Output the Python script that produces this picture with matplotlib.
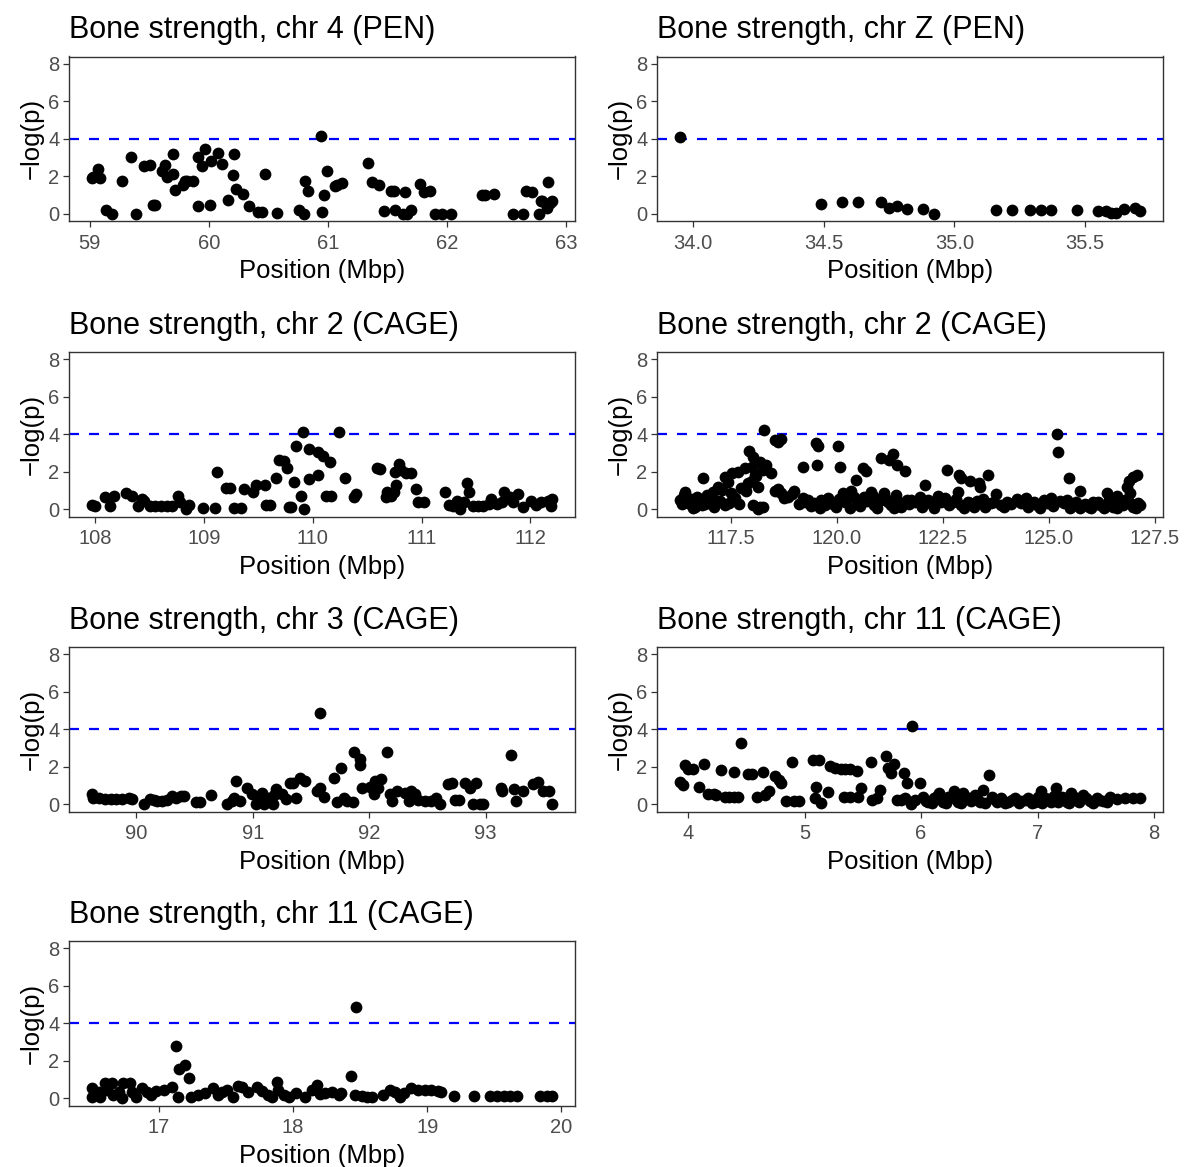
import matplotlib
matplotlib.use("Agg")
import matplotlib.pyplot as plt
from matplotlib.ticker import FormatStrFormatter

###########################
# Data (position in Mbp, -log(p))
###########################

titles = ["Bone strength, chr 4 (PEN)", "Bone strength, chr Z (PEN)",
          "Bone strength, chr 2 (CAGE)", "Bone strength, chr 2 (CAGE)",
          "Bone strength, chr 3 (CAGE)", "Bone strength, chr 11 (CAGE)",
          "Bone strength, chr 11 (CAGE)"]

chr4_pen = [
    (59.02, 1.89), (59.03, 1.94), (59.07, 2.39), (59.09, 1.89), (59.14, 0.18),
    (59.19, 0.0), (59.27, 1.76), (59.35, 3.02), (59.39, 0.0), (59.46, 2.52),
    (59.51, 2.57), (59.53, 0.45), (59.55, 0.45), (59.63, 2.57), (59.61, 2.25),
    (59.65, 1.98), (59.70, 3.18), (59.70, 2.12), (59.72, 1.28), (59.78, 1.53),
    (59.80, 1.76), (59.82, 1.76), (59.87, 1.76), (59.91, 3.02), (59.91, 0.41),
    (59.94, 2.52), (59.97, 3.47), (60.01, 0.45), (60.02, 2.79), (60.08, 3.24),
    (60.11, 2.63), (60.16, 0.74), (60.21, 3.18), (60.20, 2.07), (60.23, 1.31),
    (60.29, 1.04), (60.34, 0.41), (60.41, 0.09), (60.45, 0.09), (60.47, 2.10),
    (60.57, 0.05), (60.76, 0.18), (60.80, 0.0), (60.81, 1.76), (60.83, 1.22),
    (60.94, 4.14), (60.95, 0.09), (60.97, 1.01), (60.99, 2.25), (61.06, 1.49),
    (61.08, 1.55), (61.12, 1.62), (61.34, 2.72), (61.37, 1.67), (61.43, 1.53),
    (61.47, 0.14), (61.53, 1.21), (61.55, 1.21), (61.56, 0.18), (61.63, 0.0),
    (61.65, 1.13), (61.66, 0.0), (61.70, 0.18), (61.77, 1.58), (61.81, 1.13),
    (61.86, 1.22), (61.90, 0.0), (61.96, 0.0), (62.03, 0.0), (62.29, 1.01),
    (62.32, 1.01), (62.39, 1.04), (62.55, 0.0), (62.64, 0.0), (62.66, 1.22),
    (62.71, 1.17), (62.77, 0.0), (62.79, 0.68), (62.80, 0.68), (62.84, 0.27),
    (62.85, 1.67), (62.86, 0.56), (62.88, 0.68),
]

chrZ_pen = [
    (33.95, 4.10), (34.49, 0.50), (34.57, 0.59), (34.63, 0.63), (34.72, 0.59),
    (34.75, 0.32), (34.78, 0.38), (34.82, 0.23), (34.88, 0.23), (34.92, 0.0),
    (35.16, 0.18), (35.22, 0.18), (35.29, 0.18), (35.33, 0.18), (35.37, 0.18),
    (35.47, 0.18), (35.55, 0.11), (35.58, 0.11), (35.60, 0.05), (35.62, 0.05),
    (35.65, 0.23), (35.69, 0.29), (35.71, 0.14),
]

chr2_cage_a = [
    (107.97, 0.22), (108.0, 0.18), (108.09, 0.63), (108.14, 0.18), (108.17, 0.72),
    (108.28, 0.87), (108.34, 0.72), (108.39, 0.18), (108.43, 0.54), (108.45, 0.45),
    (108.50, 0.18), (108.55, 0.18), (108.60, 0.18), (108.66, 0.18), (108.71, 0.18),
    (108.76, 0.72), (108.78, 0.36), (108.83, 0.0), (108.86, 0.22), (108.99, 0.05),
    (109.10, 0.04), (109.12, 1.99), (109.20, 1.12), (109.24, 1.12), (109.28, 0.04),
    (109.34, 0.04), (109.37, 1.09), (109.45, 0.90), (109.48, 1.27), (109.56, 1.30),
    (109.57, 0.22), (109.61, 0.22), (109.66, 1.67), (109.69, 2.62), (109.74, 2.57),
    (109.76, 2.21), (109.78, 0.09), (109.80, 0.09), (109.83, 1.45), (109.85, 3.35),
    (109.89, 0.72), (109.91, 4.11), (109.92, 0.0), (109.97, 3.22), (109.97, 1.59),
    (110.05, 1.81), (110.05, 3.04), (110.09, 2.81), (110.12, 0.72), (110.16, 2.50),
    (110.17, 0.72), (110.24, 4.11), (110.30, 1.67), (110.38, 0.63), (110.40, 0.81),
    (110.59, 2.17), (110.62, 2.12), (110.67, 0.63), (110.68, 0.90), (110.72, 0.72),
    (110.75, 0.90), (110.76, 1.99), (110.77, 1.27), (110.79, 2.39), (110.81, 2.08),
    (110.86, 1.94), (110.90, 1.94), (110.95, 1.05), (110.97, 0.36), (111.02, 0.36),
    (111.22, 0.90), (111.25, 0.22), (111.29, 0.18), (111.33, 0.45), (111.35, 0.0),
    (111.39, 0.36), (111.42, 1.41), (111.44, 0.90), (111.47, 0.18), (111.52, 0.18),
    (111.57, 0.18), (111.62, 0.27), (111.64, 0.54), (111.69, 0.27), (111.74, 0.36),
    (111.76, 0.90), (111.81, 0.63), (111.84, 0.36), (111.89, 0.81), (111.93, 0.09),
    (112.01, 0.45), (112.05, 0.22), (112.10, 0.36), (112.16, 0.45), (112.19, 0.18),
    (112.20, 0.54),
]

chr2_cage_b = [
    (118.28, 4.23), (118.53, 3.70), (118.69, 3.73), (118.61, 3.60), (119.50, 3.52),
    (119.55, 3.38), (120.02, 3.38), (117.93, 3.13), (118.02, 2.80), (118.18, 2.54),
    (118.34, 2.36), (118.45, 1.91), (119.21, 2.23), (119.53, 2.36), (120.07, 2.23),
    (121.05, 2.75), (121.23, 2.63), (121.33, 2.93), (121.41, 2.36), (121.60, 2.05),
    (120.61, 2.18), (120.69, 2.04), (120.45, 1.55), (116.85, 1.64), (117.36, 1.73),
    (117.52, 1.91), (117.67, 2.00), (117.83, 2.18), (117.99, 2.27), (118.06, 1.82),
    (117.44, 1.46), (117.20, 1.20), (117.91, 1.38), (118.14, 1.16), (116.42, 0.93),
    (116.69, 0.66), (116.93, 0.75), (117.09, 0.93), (117.28, 1.02), (117.59, 0.57),
    (116.30, 0.48), (116.50, 0.30), (116.65, 0.13), (116.81, 0.21), (117.01, 0.39),
    (117.16, 0.30), (117.36, 0.21), (118.02, 0.21), (118.18, 0.09), (118.26, 0.13),
    (118.61, 1.05), (118.69, 0.88), (118.85, 0.66), (119.00, 0.96), (119.20, 0.57),
    (119.32, 0.48), (119.47, 0.30), (119.63, 0.48), (119.71, 0.21), (119.86, 0.39),
    (119.98, 0.13), (120.14, 0.88), (120.25, 0.57), (120.33, 0.96), (120.49, 0.30),
    (120.64, 0.66), (120.80, 0.93), (120.88, 0.21), (121.04, 0.48), (121.11, 0.84),
    (121.27, 0.21), (121.39, 0.75), (121.51, 0.13), (121.66, 0.48),
    (122.09, 1.29), (122.59, 2.09), (122.88, 1.82), (122.93, 1.64), (123.15, 1.52),
    (123.36, 1.38), (123.38, 1.16), (123.57, 1.82), (122.85, 0.93), (123.75, 0.80),
    (125.48, 1.64), (125.74, 0.96), (126.37, 0.88), (126.60, 0.70), (126.90, 1.52),
    (126.99, 1.73), (127.07, 1.82), (126.84, 1.20), (126.92, 0.84), (125.20, 4.00),
    (125.21, 3.04),
    (121.76, 0.48), (121.95, 0.63), (122.15, 0.48), (122.38, 0.70), (122.54, 0.57),
    (122.73, 0.39), (122.93, 0.21), (123.09, 0.39), (123.24, 0.13), (123.44, 0.52),
    (123.63, 0.30), (123.87, 0.21), (124.02, 0.39), (124.26, 0.52), (124.45, 0.57),
    (124.57, 0.30), (124.73, 0.21), (124.88, 0.48), (125.04, 0.57), (125.27, 0.45),
    (125.43, 0.48), (125.59, 0.21), (125.74, 0.04), (125.94, 0.13), (126.05, 0.39),
    (126.21, 0.21), (126.41, 0.48), (126.52, 0.13), (126.68, 0.30), (126.80, 0.48),
    (126.99, 0.13), (127.15, 0.21),
    (116.35, 0.25), (116.40, 0.75), (116.55, 0.55), (116.60, 0.05), (116.75, 0.45),
    (116.90, 0.25), (117.05, 0.70), (117.10, 0.10), (117.25, 0.45), (117.45, 0.30),
    (117.50, 0.85), (117.70, 0.25), (117.75, 1.15), (117.85, 0.95), (118.00, 1.50),
    (118.10, 1.75), (118.15, 0.00), (118.25, 2.10), (118.55, 0.95), (118.75, 0.60),
    (118.95, 0.80), (119.10, 0.25), (119.25, 0.40), (119.40, 0.15), (119.60, 0.05),
    (119.80, 0.60), (119.90, 0.25), (120.05, 0.55), (120.20, 0.35), (120.30, 0.05),
    (120.40, 0.65), (120.55, 0.15), (120.70, 0.45), (120.85, 0.70), (120.95, 0.05),
    (121.15, 0.55), (121.20, 0.35), (121.35, 0.05), (121.45, 0.40), (121.55, 0.30),
    (121.70, 0.25), (121.85, 0.40), (122.00, 0.10), (122.20, 0.30), (122.30, 0.05),
    (122.45, 0.35), (122.65, 0.20), (122.80, 0.55), (123.00, 0.05), (123.15, 0.30),
    (123.30, 0.45), (123.50, 0.10), (123.70, 0.40), (123.95, 0.10), (124.10, 0.25),
    (124.35, 0.30), (124.50, 0.10), (124.65, 0.40), (124.80, 0.05), (124.95, 0.30),
    (125.10, 0.15), (125.35, 0.30), (125.50, 0.05), (125.65, 0.35), (125.85, 0.25),
    (126.00, 0.05), (126.15, 0.35), (126.30, 0.05), (126.45, 0.30), (126.60, 0.05),
    (126.75, 0.20), (126.90, 0.35), (127.05, 0.05), (127.10, 0.30),
]

chr3_cage = [
    (89.62, 0.51), (89.63, 0.32), (89.68, 0.32), (89.73, 0.27), (89.78, 0.27),
    (89.83, 0.27), (89.88, 0.27), (89.94, 0.32), (89.96, 0.29), (90.07, 0.0),
    (90.12, 0.29), (90.15, 0.23), (90.18, 0.18), (90.22, 0.18), (90.26, 0.23),
    (90.31, 0.42), (90.34, 0.32), (90.38, 0.42), (90.41, 0.42), (90.51, 0.09),
    (90.55, 0.09), (90.64, 0.47), (90.78, 0.0), (90.82, 0.18), (90.84, 0.32),
    (90.86, 1.23), (90.89, 0.14), (90.95, 0.87), (90.99, 0.51), (91.03, 0.0),
    (91.05, 0.32), (91.08, 0.60), (91.10, 0.0), (91.13, 0.32), (91.17, 0.0),
    (91.18, 0.47), (91.20, 0.78), (91.25, 0.51), (91.29, 0.29), (91.32, 1.14),
    (91.35, 1.14), (91.37, 0.32), (91.41, 1.41), (91.45, 1.23), (91.55, 0.69),
    (91.58, 0.87), (91.58, 4.87), (91.61, 0.36), (91.70, 1.41), (91.72, 0.09),
    (91.76, 1.91), (91.78, 0.32), (91.81, 0.18), (91.86, 0.09), (91.87, 2.76),
    (91.92, 2.40), (91.92, 2.09), (91.94, 0.87), (92.01, 0.92), (92.04, 0.51),
    (92.05, 1.23), (92.10, 1.32), (92.08, 0.87), (92.15, 2.80), (92.18, 0.51),
    (92.20, 0.18), (92.24, 0.69), (92.31, 0.60), (92.34, 0.18), (92.36, 0.69),
    (92.39, 0.51), (92.42, 0.23), (92.48, 0.14), (92.53, 0.14), (92.57, 0.32),
    (92.61, 0.0), (92.68, 1.05), (92.71, 1.14), (92.74, 0.23), (92.77, 0.23),
    (92.82, 1.14), (92.87, 0.87), (92.89, 0.0), (92.92, 1.14), (92.95, 0.0),
    (92.98, 0.0), (93.13, 0.87), (93.14, 0.69), (93.22, 2.64), (93.24, 0.78),
    (93.26, 0.14), (93.32, 0.72), (93.41, 1.05), (93.45, 1.19), (93.49, 0.69),
    (93.54, 0.69), (93.57, 0.0),
]

chr11_cage_a = [
    (3.93, 1.16), (3.96, 1.04), (3.97, 2.07), (4.00, 1.85), (4.04, 1.85),
    (4.09, 0.89), (4.14, 2.13), (4.17, 0.53), (4.22, 0.53), (4.24, 0.49),
    (4.28, 1.82), (4.32, 0.40), (4.35, 0.35), (4.39, 1.71), (4.39, 0.40),
    (4.43, 0.40), (4.45, 3.27), (4.51, 1.62), (4.55, 1.62), (4.59, 0.40),
    (4.64, 1.71), (4.66, 0.49), (4.69, 0.71), (4.75, 1.49), (4.78, 1.31),
    (4.80, 1.13), (4.84, 0.16), (4.89, 2.27), (4.91, 0.16), (4.95, 0.16),
    (5.07, 2.35), (5.12, 2.35), (5.10, 0.89), (5.09, 0.31), (5.14, 0.07),
    (5.20, 0.62), (5.22, 2.04), (5.26, 1.95), (5.31, 1.85), (5.35, 1.85),
    (5.39, 1.85), (5.45, 1.76), (5.34, 0.35), (5.39, 0.35), (5.48, 0.85),
    (5.46, 0.35), (5.57, 2.25), (5.58, 0.22), (5.62, 0.31), (5.65, 0.76),
    (5.70, 2.58), (5.72, 1.95), (5.74, 1.67), (5.77, 2.13), (5.79, 0.22),
    (5.83, 0.22), (5.85, 1.67), (5.88, 1.13), (5.91, 0.0), (5.92, 4.16),
    (5.99, 1.13), (5.86, 0.31), (6.58, 1.55),
    (5.95, 0.22), (6.02, 0.40), (6.06, 0.13), (6.11, 0.31), (6.15, 0.58),
    (6.19, 0.13), (6.23, 0.40), (6.28, 0.67), (6.32, 0.13), (6.36, 0.58),
    (6.41, 0.31), (6.46, 0.49), (6.51, 0.13), (6.53, 0.76), (6.61, 0.40),
    (6.65, 0.13), (6.69, 0.31), (6.75, 0.13), (6.81, 0.31), (6.86, 0.16),
    (6.92, 0.31), (6.98, 0.13), (7.03, 0.67), (7.06, 0.31), (7.12, 0.13),
    (7.16, 0.85), (7.21, 0.40), (7.25, 0.13), (7.29, 0.58), (7.33, 0.22),
    (7.39, 0.49), (7.45, 0.16), (7.51, 0.31), (7.56, 0.16), (7.62, 0.35),
    (7.68, 0.27), (7.75, 0.31), (7.82, 0.31), (7.88, 0.31),
    (6.04, 0.15), (6.09, 0.05), (6.13, 0.35), (6.17, 0.25), (6.21, 0.05),
    (6.25, 0.30), (6.30, 0.45), (6.34, 0.05), (6.38, 0.35), (6.43, 0.15),
    (6.48, 0.30), (6.55, 0.05), (6.63, 0.25), (6.72, 0.05), (6.78, 0.20),
    (6.84, 0.05), (6.90, 0.20), (6.95, 0.05), (7.00, 0.35), (7.04, 0.05),
    (7.09, 0.25), (7.14, 0.45), (7.18, 0.10), (7.23, 0.30), (7.27, 0.05),
    (7.31, 0.40), (7.36, 0.10), (7.42, 0.30), (7.48, 0.05), (7.53, 0.20),
    (7.60, 0.10),
]

chr11_cage_b = [
    (16.50, 0.52), (16.50, 0.04), (16.55, 0.34), (16.56, 0.04), (16.60, 0.82),
    (16.61, 0.43), (16.65, 0.82), (16.66, 0.16), (16.70, 0.34), (16.72, 0.02),
    (16.73, 0.79), (16.78, 0.79), (16.80, 0.34), (16.83, 0.07), (16.87, 0.52),
    (16.91, 0.34), (16.94, 0.16), (16.98, 0.39), (17.04, 0.43), (17.10, 0.61),
    (17.13, 2.79), (17.14, 0.07), (17.15, 1.55), (17.19, 1.77), (17.22, 1.05),
    (17.24, 0.07), (17.29, 0.16), (17.34, 0.25), (17.40, 0.52), (17.44, 0.16),
    (17.47, 0.34), (17.51, 0.43), (17.55, 0.07), (17.59, 0.64), (17.62, 0.61),
    (17.66, 0.34), (17.73, 0.61), (17.77, 0.39), (17.81, 0.16), (17.84, 0.07),
    (17.88, 0.88), (17.89, 0.43), (17.93, 0.16), (17.97, 0.07), (18.02, 0.25),
    (18.09, 0.07), (18.14, 0.43), (18.18, 0.70), (18.20, 0.21), (18.24, 0.29),
    (18.29, 0.34), (18.34, 0.16), (18.36, 0.25), (18.43, 1.18), (18.47, 4.88),
    (18.46, 0.16), (18.51, 0.11), (18.55, 0.07), (18.59, 0.07), (18.67, 0.16),
    (18.72, 0.43), (18.76, 0.34), (18.80, 0.07), (18.83, 0.25), (18.88, 0.52),
    (18.93, 0.43), (18.98, 0.43), (19.03, 0.43), (19.08, 0.39), (19.10, 0.34),
    (19.20, 0.11), (19.35, 0.11), (19.47, 0.11), (19.52, 0.11), (19.57, 0.11),
    (19.62, 0.11), (19.67, 0.11), (19.84, 0.11), (19.89, 0.11), (19.93, 0.11),
]

panel_data = [chr4_pen, chrZ_pen, chr2_cage_a, chr2_cage_b,
              chr3_cage, chr11_cage_a, chr11_cage_b]
panel_xticks = [[59, 60, 61, 62, 63],
                [34.0, 34.5, 35.0, 35.5],
                [108, 109, 110, 111, 112],
                [117.5, 120.0, 122.5, 125.0, 127.5],
                [90, 91, 92, 93],
                [4, 5, 6, 7, 8],
                [17, 18, 19, 20]]
panel_fmt = ["%d", "%.1f", "%d", "%.1f", "%d", "%d", "%d"]

THRESHOLD = 4

###########################
# Layout (pixels)
###########################

W, H = 1187, 1167
col_left = [69, 657]
box_w = 506
row_bottom = [221, 516.5, 811.5, 1105.5]
box_h = 164.5

plt.rcParams['font.family'] = ['Liberation Sans', 'DejaVu Sans']
fig = plt.figure(figsize=(W / 100, H / 100), dpi=100)

for i, pts in enumerate(panel_data):
    r, c = divmod(i, 2)
    left = col_left[c] / W
    bottom = 1 - row_bottom[r] / H
    ax = fig.add_axes([left, bottom, box_w / W, box_h / H])

    x = [p[0] for p in pts]
    y = [p[1] for p in pts]
    ax.scatter(x, y, s=72, color='black', linewidths=0, zorder=3)
    ax.axhline(THRESHOLD, color='#0000FF', linewidth=1.6,
               dashes=(4.5, 4.5), zorder=2)

    # ggplot-like 5% expansion on x, fixed 0-8 on y
    span = max(x) - min(x)
    ax.set_xlim(min(x) - 0.05 * span, max(x) + 0.05 * span)
    ax.set_ylim(-0.4, 8.4)
    ax.set_xticks(panel_xticks[i])
    ax.xaxis.set_major_formatter(FormatStrFormatter(panel_fmt[i]))
    ax.set_yticks([0, 2, 4, 6, 8])

    for sp in ax.spines.values():
        sp.set_color('#333333')
        sp.set_linewidth(1.0)
    ax.tick_params(axis='both', length=4, width=0.9, color='#333333',
                   labelcolor='#4D4D4D', labelsize=14.5, pad=3)
    ax.tick_params(axis='x', pad=5)

    ax.set_xlabel('Position (Mbp)', fontsize=18.5, labelpad=5)
    ax.set_ylabel('\u2212log(p)', fontsize=18.5, labelpad=3)
    ax.set_title(titles[i], loc='left', fontsize=22, pad=13)

plt.savefig('out.png', dpi=100)
